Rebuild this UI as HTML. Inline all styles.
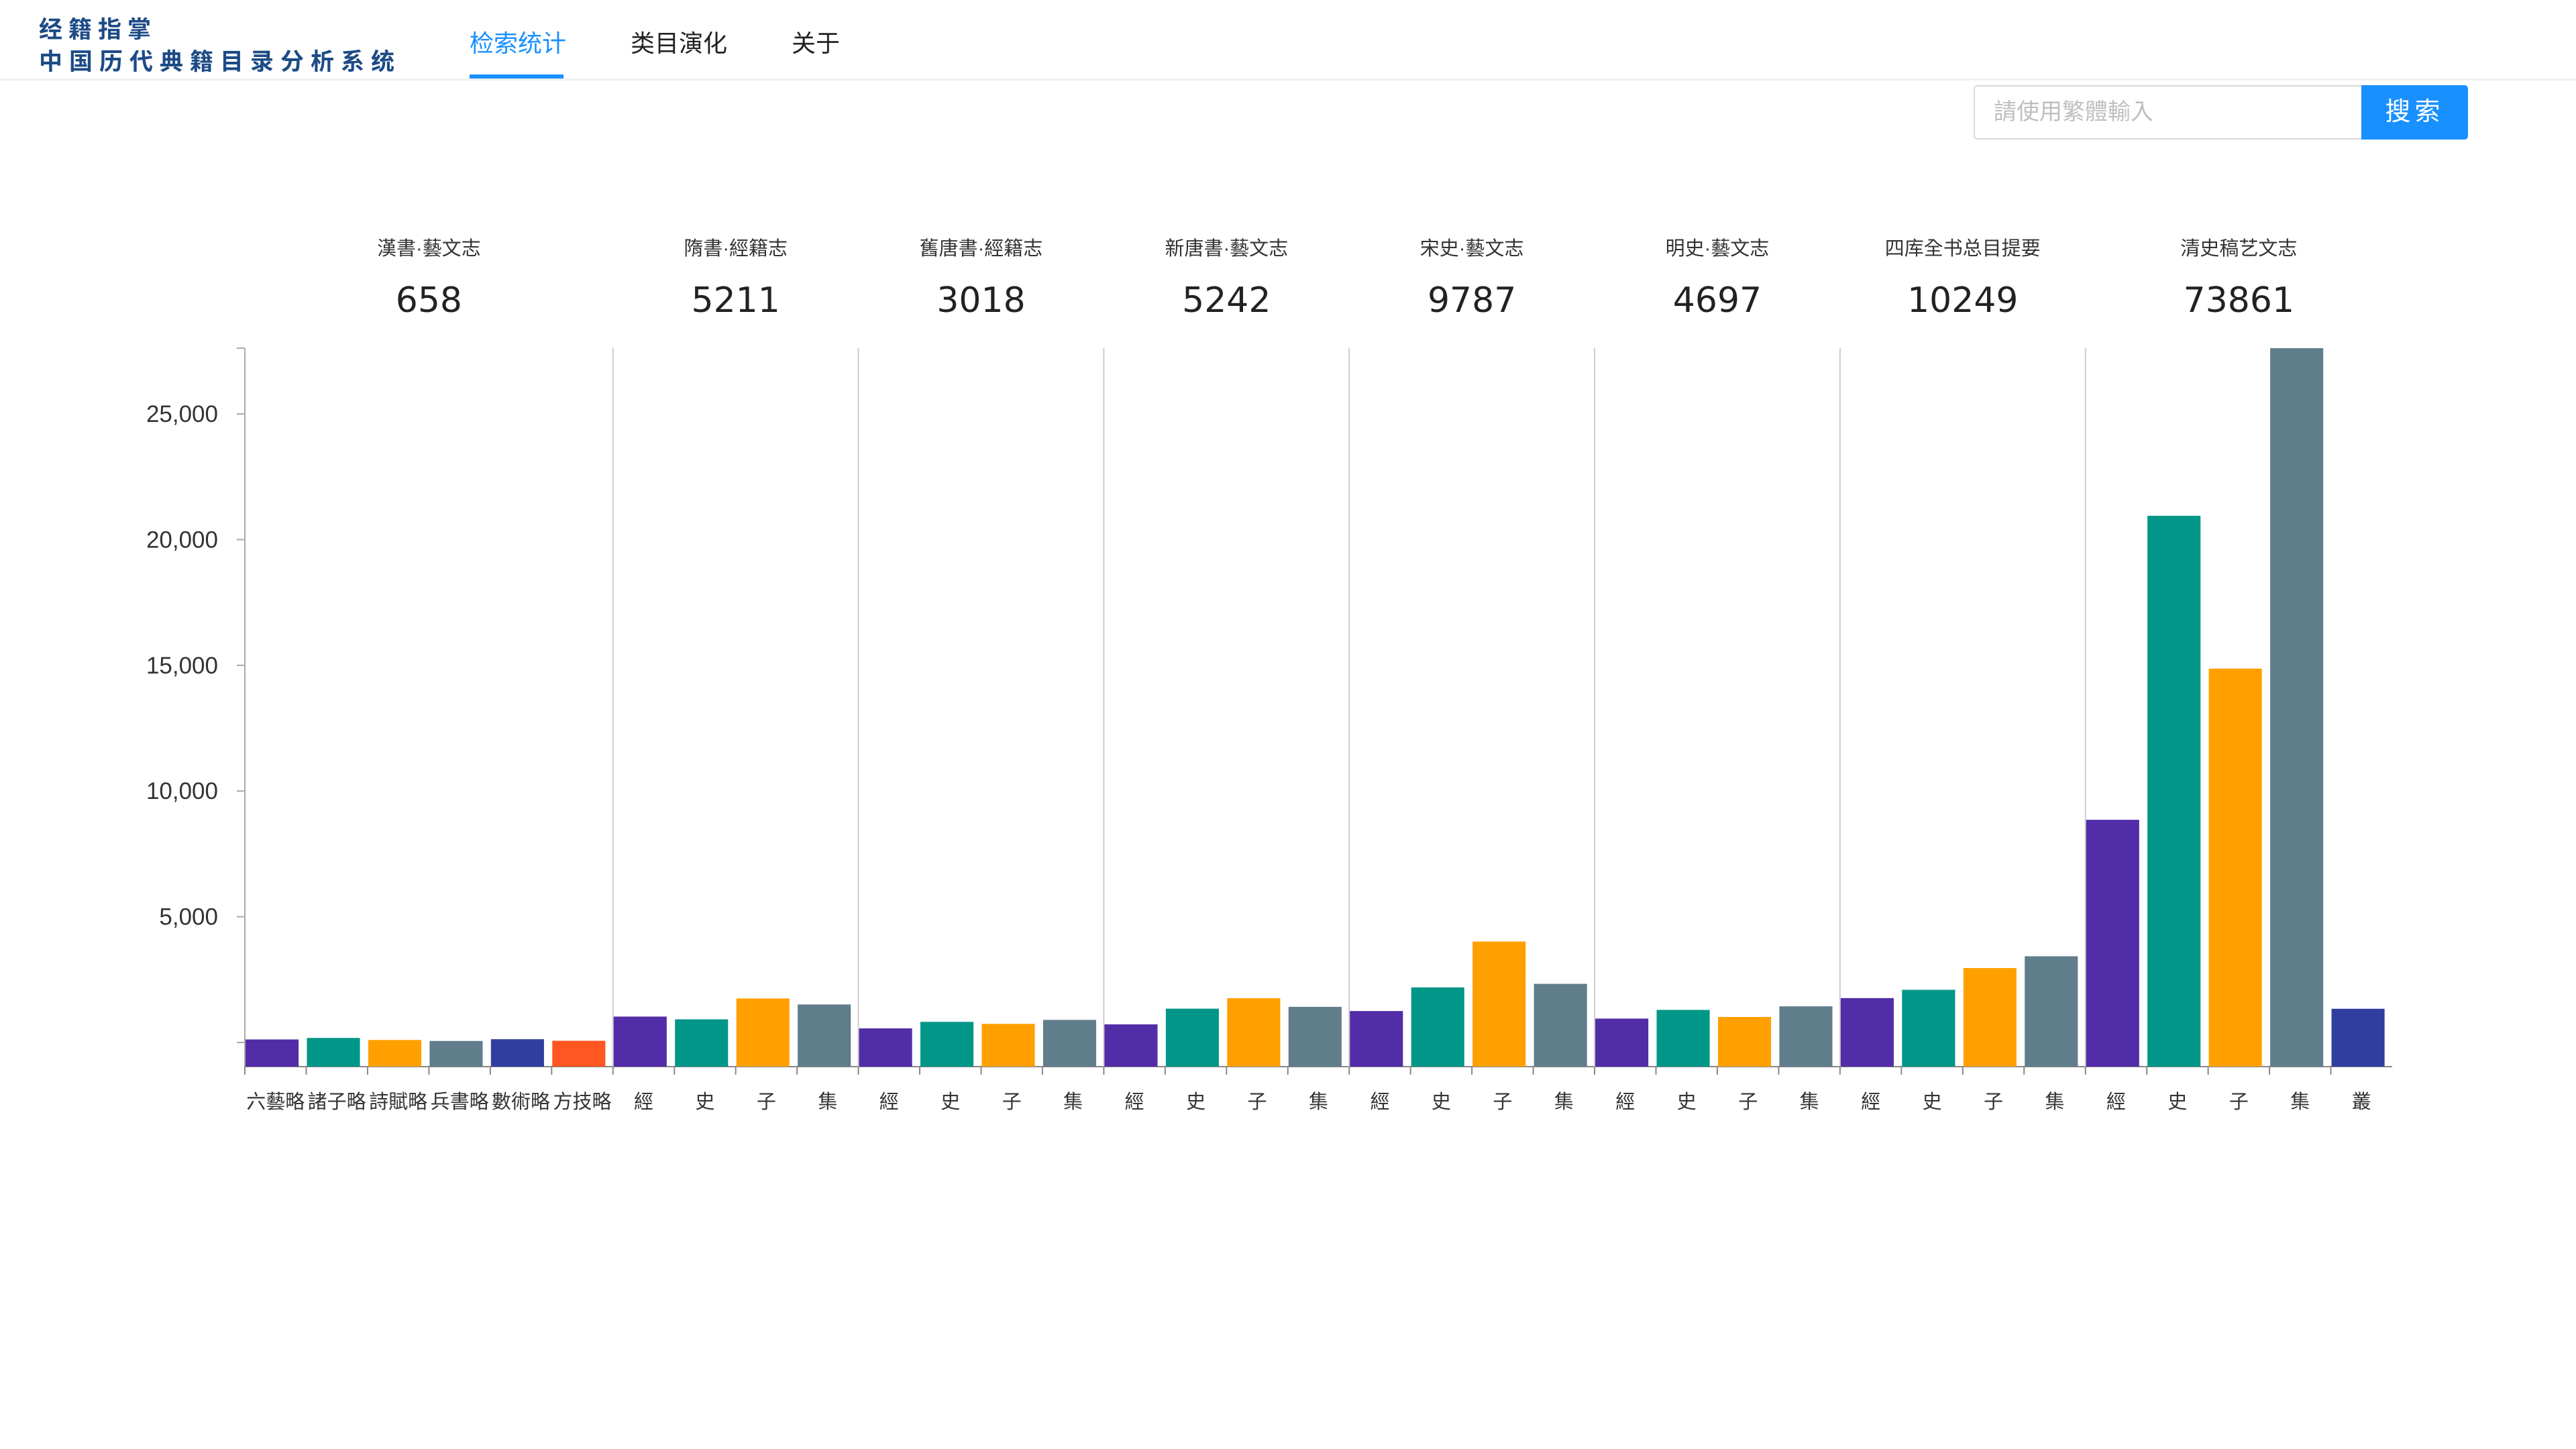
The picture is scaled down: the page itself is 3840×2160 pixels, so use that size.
<!DOCTYPE html>
<html><head><meta charset="utf-8">
<style>
html,body{margin:0;padding:0;background:#fff;width:3840px;height:2160px;overflow:hidden;font-family:"Liberation Sans","Noto Sans CJK TC",sans-serif;}
#hdr{position:absolute;left:0;top:0;width:3840px;height:117px;border-bottom:3px solid #f0f0f0;}
.logo{position:absolute;left:58px;color:#1d4b86;font-family:"Noto Sans CJK SC",sans-serif;font-weight:bold;font-size:35px;letter-spacing:10px;}
.nav{position:absolute;top:36px;font-size:36px;color:#222;font-family:"Liberation Sans","Noto Sans CJK SC",sans-serif;}
#srch{position:absolute;left:2942px;top:127px;width:574px;height:77px;border:2px solid #d9d9d9;border-radius:5px 0 0 5px;font-size:34px;color:#bfbfbf;line-height:77px;padding-left:28px;box-sizing:content-box;font-family:"Liberation Sans","Noto Sans CJK TC",sans-serif;}
#btn{position:absolute;left:3520px;top:127px;width:159px;height:81px;background:#1890ff;border-radius:0 5px 5px 0;color:#fff;font-size:38px;line-height:81px;text-align:center;letter-spacing:6px;}
svg{position:absolute;left:0;top:0}
</style></head><body>
<div id="hdr">
 <div class="logo" style="top:16px;letter-spacing:9px">经籍指掌</div>
 <div class="logo" style="top:64px">中国历代典籍目录分析系统</div>
 <div class="nav" style="left:700px;color:#1890ff">检索统计</div>
 <div style="position:absolute;left:700px;top:111px;width:140px;height:6px;background:#1890ff"></div>
 <div class="nav" style="left:940px">类目演化</div>
 <div class="nav" style="left:1180px">关于</div>
</div>
<div id="srch">請使用繁體輸入</div>
<div id="btn">搜索</div>
<svg id="chart" width="3840" height="2160"></svg>
<script>
const groupNames=["漢書·藝文志","隋書·經籍志","舊唐書·經籍志","新唐書·藝文志","宋史·藝文志","明史·藝文志","四库全书总目提要","清史稿艺文志"];
const groupTotals=[658,5211,3018,5242,9787,4697,10249,73861];
const groupCats=[["六藝略","諸子略","詩賦略","兵書略","數術略","方技略"],["經","史","子","集"],["經","史","子","集"],["經","史","子","集"],["經","史","子","集"],["經","史","子","集"],["經","史","子","集"],["經","史","子","集","叢"]];
const groupValues=[[120,180,100,60,130,68],[1030,920,1750,1511],[560,820,740,898],[720,1345,1760,1417],[1250,2190,4015,2332],[950,1295,1015,1437],[1765,2095,2960,3429],[8856,20948,14869,27848,1340]];
const yTicks=[5000,10000,15000,20000,25000];
const yTickLabels=["5,000","10,000","15,000","20,000","25,000"];
const groupColors=[["#512da8","#009688","#ffa000","#607d8b","#303f9f","#ff5722"],["#512da8","#009688","#ffa000","#607d8b","#303f9f"]];

const svg=document.getElementById('chart');const NS='http://www.w3.org/2000/svg';
function mk(t,a,txt){const e=document.createElementNS(NS,t);for(const k in a)e.setAttribute(k,a[k]);if(txt!==undefined)e.textContent=txt;svg.appendChild(e);return e;}
const X0=365,TOP=519,BOT=1590,Y0=1554,PER=187.4/5000;
const yMax=(Y0-TOP)/PER;
function y(v){return Y0-Math.min(v,yMax)*PER;}
const nBands=groupCats.reduce((s,g)=>s+g.length,0);
const BW=(3566-X0)/nBands;
function xb(i){return X0+i*BW;}
let e=mk('line',{x1:X0,y1:TOP,x2:X0,y2:BOT,stroke:'#aaa','stroke-width':2});

e=mk('line',{x1:X0-12,y1:TOP,x2:X0,y2:TOP,stroke:'#aaa','stroke-width':2});

e=mk('line',{x1:X0,y1:BOT,x2:xb(nBands),y2:BOT,stroke:'#888','stroke-width':2});

[0].concat(yTicks).forEach((t,i)=>{
 const ty=y(t);
 const l=mk('line',{x1:X0-12,y1:ty,x2:X0,y2:ty,stroke:'#aaa','stroke-width':2});
 
 if(i>0){const tx=mk('text',{x:X0-40,y:ty+12,'text-anchor':'end','font-size':35,fill:'#333','font-family':'Liberation Sans,sans-serif'},yTickLabels[i-1]);
 }
});
let bi=0;
groupCats.forEach((cats,g)=>{
 const start=bi;
 if(g>0){const s=mk('line',{x1:xb(start),y1:TOP,x2:xb(start),y2:BOT,stroke:'#ccc','stroke-width':2});
 }
 const cols=g===0?groupColors[0]:groupColors[1];
 cats.forEach((c,k)=>{
  const v=groupValues[g][k];const x=xb(bi);
  const r=mk('rect',{x:x+1,y:y(v),width:BW*0.865,height:BOT-y(v),fill:cols[k]});
  
  const tk=mk('line',{x1:x,y1:BOT,x2:x,y2:BOT+12,stroke:'#888','stroke-width':2});
  
  const lb=mk('text',{x:x+BW/2,y:1652,'text-anchor':'middle','font-size':29,fill:'#333','font-family':'Liberation Sans,Noto Sans CJK TC,sans-serif'},c);
  
  bi++;
 });
 const cx=(xb(start)+xb(bi))/2;
 const gt=mk('text',{x:cx,y:380,'text-anchor':'middle','font-size':29,fill:'#333','font-family':'Liberation Sans,Noto Sans CJK TC,sans-serif'},groupNames[g]);
 
 const gn=mk('text',{x:cx,y:465,'text-anchor':'middle','font-size':52,fill:'#222','font-family':'DejaVu Sans,sans-serif'},String(groupTotals[g]));
 
});
</script>
</body></html>
